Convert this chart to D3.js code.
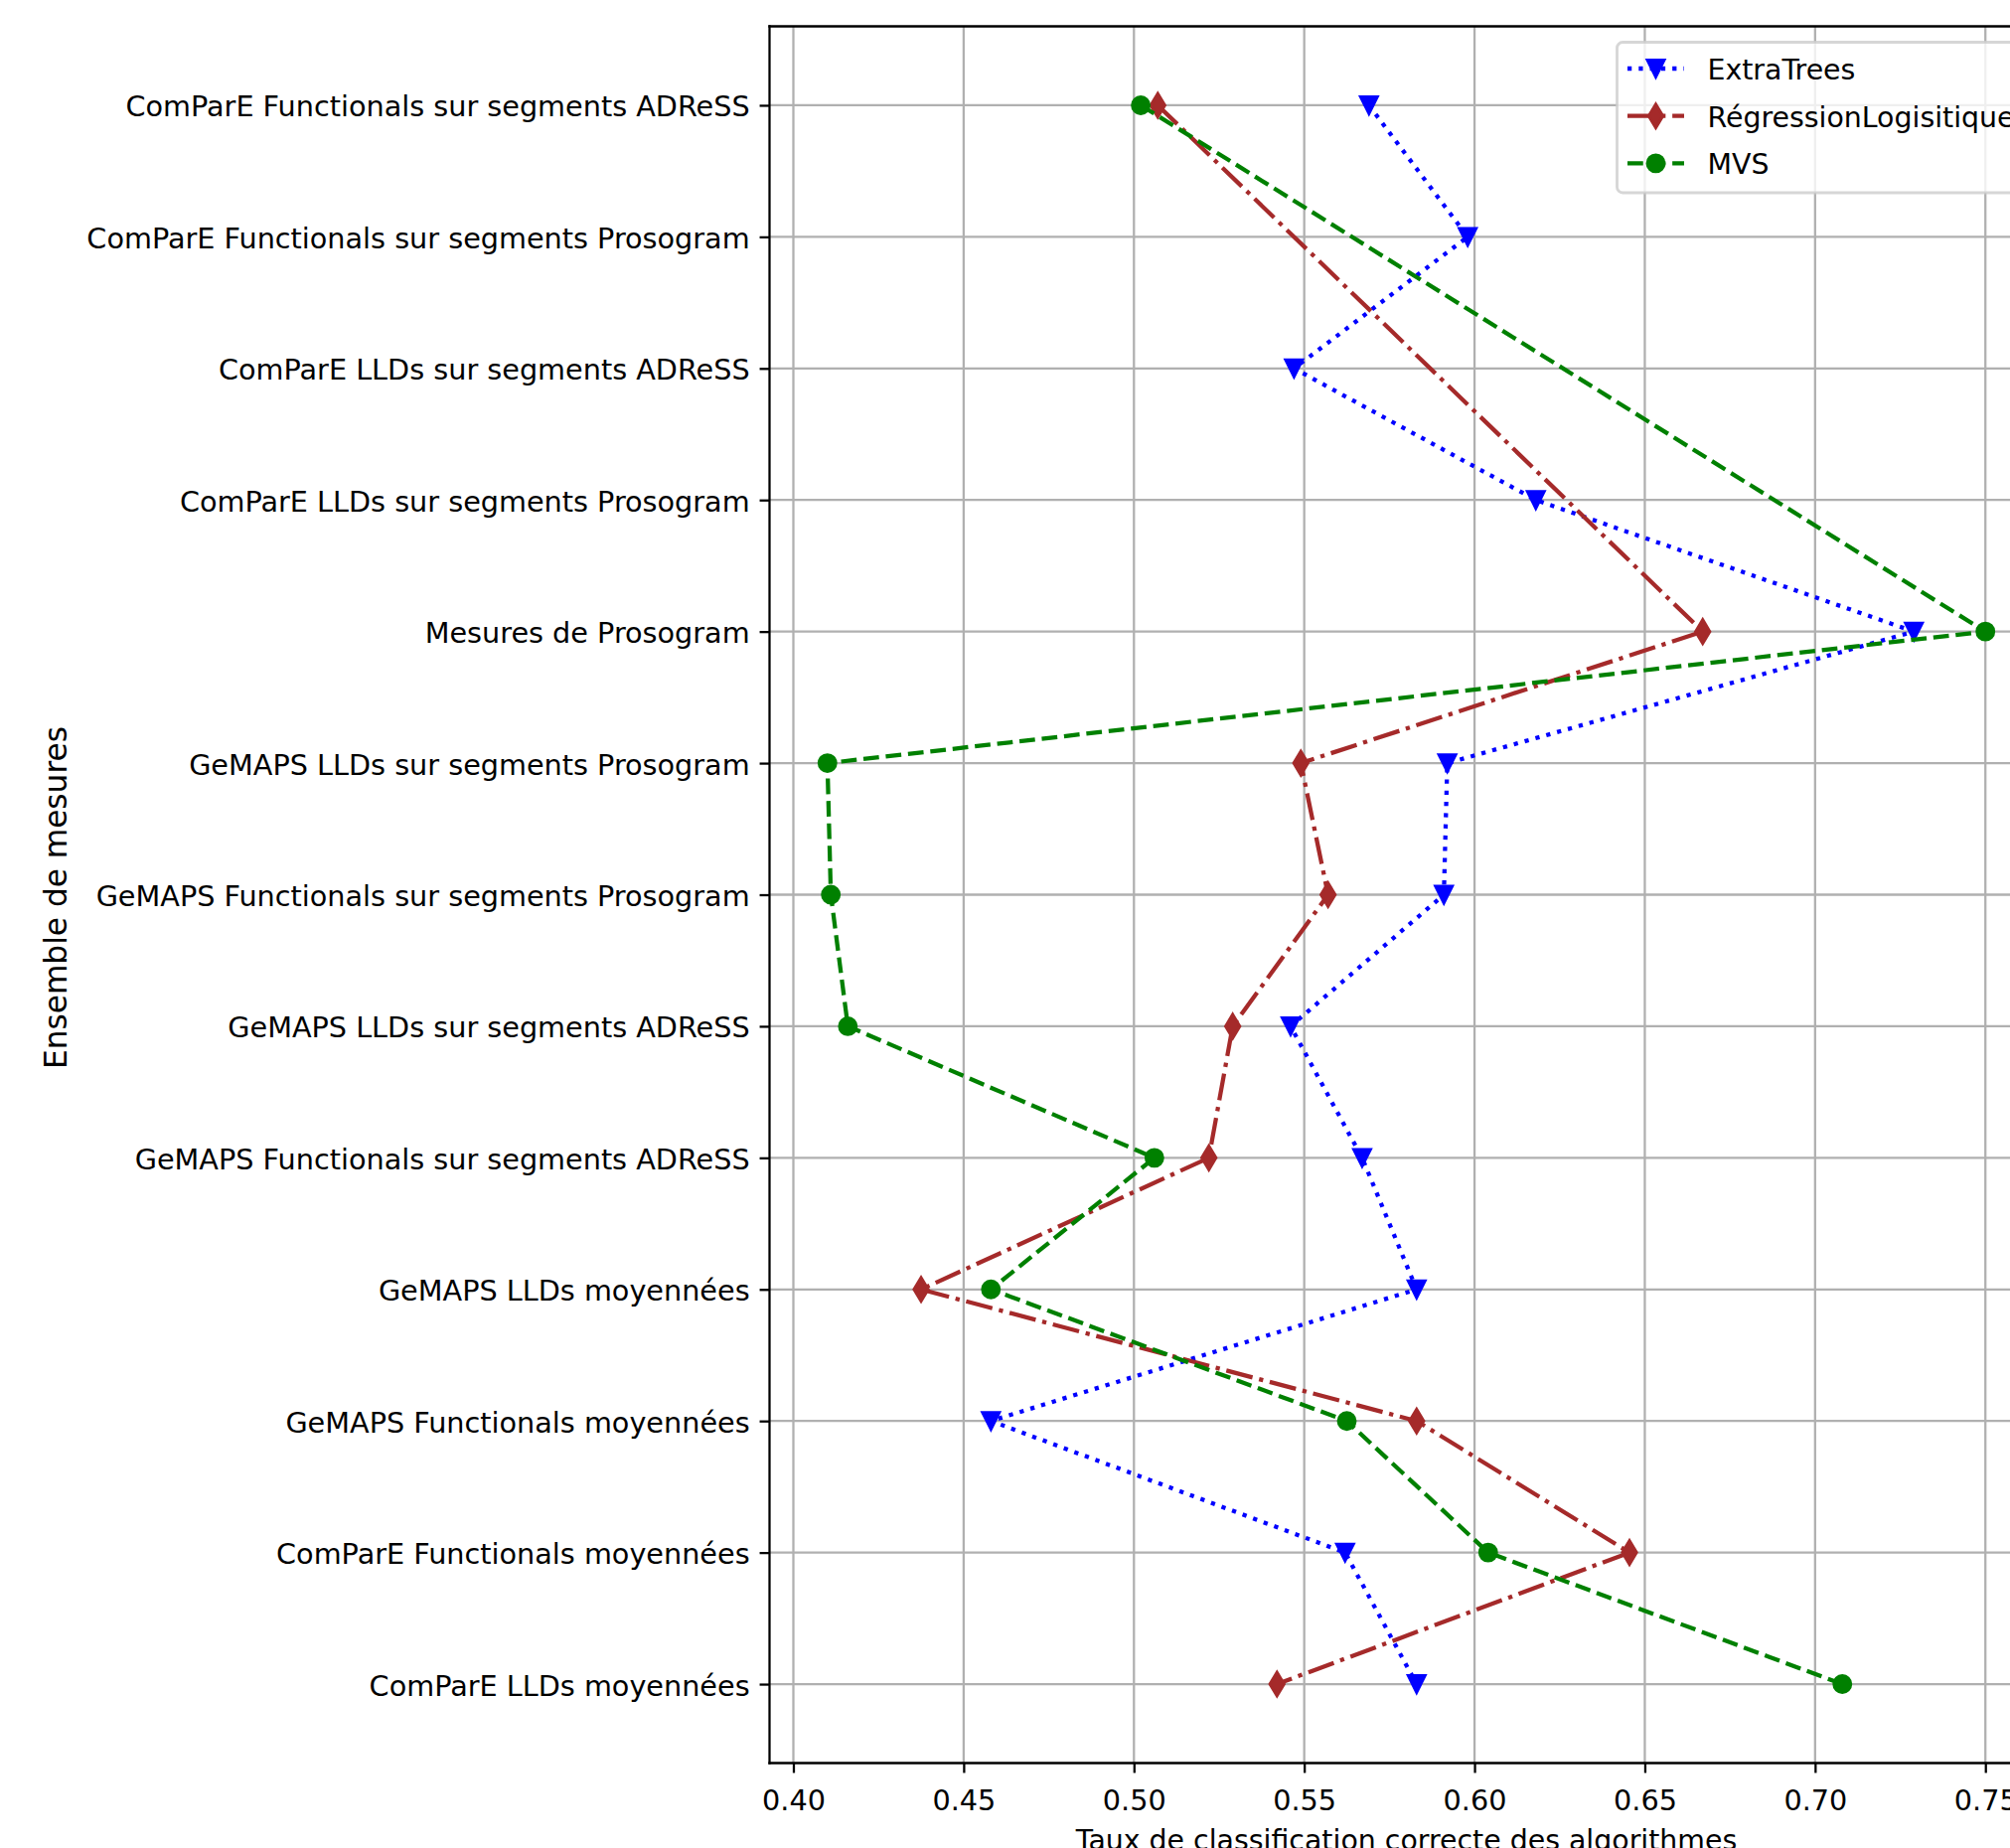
<!DOCTYPE html>
<html>
<head>
<meta charset="utf-8">
<script src="https://cdn.jsdelivr.net/npm/d3@7"></script>
<style>
  html, body { margin: 0; padding: 0; background: #ffffff; }
  svg { display: block; }
  text { font-family: "DejaVu Sans", sans-serif; }
</style>
</head>
<body>
<svg id="chart" width="2023" height="1860"></svg>
<script>
// ---------- data ----------
const categories = [
  "ComParE Functionals sur segments ADReSS",
  "ComParE Functionals sur segments Prosogram",
  "ComParE LLDs sur segments ADReSS",
  "ComParE LLDs sur segments Prosogram",
  "Mesures de Prosogram",
  "GeMAPS LLDs sur segments Prosogram",
  "GeMAPS Functionals sur segments Prosogram",
  "GeMAPS LLDs sur segments ADReSS",
  "GeMAPS Functionals sur segments ADReSS",
  "GeMAPS LLDs moyennées",
  "GeMAPS Functionals moyennées",
  "ComParE Functionals moyennées",
  "ComParE LLDs moyennées"
];
const extraTrees = [0.569, 0.598, 0.547, 0.618, 0.729, 0.592, 0.591, 0.546, 0.567, 0.583, 0.458, 0.562, 0.583];
const regressionLogistique = [0.507, null, null, null, 0.667, 0.549, 0.557, 0.529, 0.522, 0.4375, 0.583, 0.6455, 0.542];
const mvs = [0.502, null, null, null, 0.750, 0.410, 0.411, 0.416, 0.506, 0.458, 0.5625, 0.604, 0.708];
const seriesNames = ["ExtraTrees", "RégressionLogisitique", "MVS"];
const xTickValues = [0.40, 0.45, 0.50, 0.55, 0.60, 0.65, 0.70, 0.75];
const xTickLabels = ["0.40", "0.45", "0.50", "0.55", "0.60", "0.65", "0.70", "0.75"];
const xLabel = "Taux de classification correcte des algorithmes";
const yLabel = "Ensemble de mesures";

// ---------- layout / style ----------
const PT = 2.84;               // px per point
const FS = 28.4;               // font size px
const TFS = 28.7;              // tick label font size
const YLFS = 31.2;             // y label font size
const LW = 1.5 * PT;           // line width
const MS = 6 * PT;             // marker size
const MEW = 1 * PT;            // marker edge width
const plot = { left: 774.5, right: 2056.5, top: 26.5, bottom: 1774.5 };

const styles = [
  { color: "#0000ff", dash: [1 * LW, 1.65 * LW], marker: "tri" },
  { color: "#a52a2a", dash: [6.4 * LW, 1.6 * LW, 1 * LW, 1.6 * LW], marker: "thin" },
  { color: "#008000", dash: [3.7 * LW, 1.6 * LW], marker: "circle" }
];
const seriesValues = [extraTrees, regressionLogistique, mvs];

const svg = d3.select("#chart");

const x = d3.scaleLinear().domain([0.393, 0.767]).range([plot.left, plot.right]);
const y = d3.scalePoint().domain(categories).range([plot.top, plot.bottom]).padding(0.6);

// grid
const gGrid = svg.append("g");
gGrid.selectAll("line.vx").data(xTickValues).join("line")
  .attr("x1", d => x(d)).attr("x2", d => x(d))
  .attr("y1", plot.top).attr("y2", plot.bottom)
  .attr("stroke", "#b0b0b0").attr("stroke-width", 0.8 * PT);
gGrid.selectAll("line.hy").data(categories).join("line")
  .attr("x1", plot.left).attr("x2", plot.right)
  .attr("y1", d => y(d)).attr("y2", d => y(d))
  .attr("stroke", "#b0b0b0").attr("stroke-width", 0.8 * PT);

// marker path generator
function markerPath(type) {
  if (type === "circle") return d3.symbol(d3.symbolCircle, Math.PI * (MS / 2) ** 2)();
  if (type === "tri") {
    const h = MS / 2;
    return `M0,${h}L${-h},${-h}L${h},${-h}Z`;
  }
  const hy = MS * Math.SQRT2 / 2, hx = 0.6 * hy;
  return `M0,${-hy}L${hx},0L0,${hy}L${-hx},0Z`;
}

// series
const lineGen = d3.line().x(d => x(d.v)).y(d => y(d.c));
seriesValues.forEach((vals, i) => {
  const pts = categories.map((c, j) => ({ c, v: vals[j] })).filter(d => d.v !== null);
  const st = styles[i];
  const g = svg.append("g");
  g.append("path").datum(pts)
    .attr("d", lineGen)
    .attr("fill", "none")
    .attr("stroke", st.color)
    .attr("stroke-width", LW)
    .attr("stroke-dasharray", st.dash.join(","))
    .attr("stroke-linecap", "butt")
    .attr("stroke-linejoin", "round");
  g.selectAll("path.m").data(pts).join("path")
    .attr("class", "m")
    .attr("transform", d => `translate(${x(d.v)},${y(d.c)})`)
    .attr("d", markerPath(st.marker))
    .attr("fill", st.color)
    .attr("stroke", st.color)
    .attr("stroke-width", MEW)
    .attr("stroke-linejoin", "miter");
});

// axes
const xAxis = d3.axisBottom(x).tickValues(xTickValues)
  .tickFormat((d, i) => xTickLabels[i]).tickSize(3.5 * PT).tickPadding(3.5 * PT);
const gx = svg.append("g").attr("transform", `translate(0,${plot.bottom})`).call(xAxis);
gx.select(".domain").remove();
gx.selectAll(".tick line").attr("stroke", "#000").attr("stroke-width", 0.8 * PT);
gx.selectAll(".tick text").attr("font-size", TFS).attr("fill", "#000")
  .attr("font-family", "DejaVu Sans").attr("dy", null).attr("y", 47.5);

const yAxis = d3.axisLeft(y).tickSize(3.5 * PT).tickPadding(3.5 * PT);
const gy = svg.append("g").attr("transform", `translate(${plot.left},0)`).call(yAxis);
gy.select(".domain").remove();
gy.selectAll(".tick line").attr("stroke", "#000").attr("stroke-width", 0.8 * PT);
gy.selectAll(".tick text").attr("font-size", TFS).attr("fill", "#000")
  .attr("font-family", "DejaVu Sans").attr("dy", null).attr("y", 11);

// spines
const spine = svg.append("g").attr("stroke", "#000").attr("stroke-width", 0.8 * PT)
  .attr("stroke-linecap", "square");
spine.append("line").attr("x1", plot.left).attr("x2", plot.left).attr("y1", plot.top).attr("y2", plot.bottom);
spine.append("line").attr("x1", plot.right).attr("x2", plot.right).attr("y1", plot.top).attr("y2", plot.bottom);
spine.append("line").attr("x1", plot.left).attr("x2", plot.right).attr("y1", plot.top).attr("y2", plot.top);
spine.append("line").attr("x1", plot.left).attr("x2", plot.right).attr("y1", plot.bottom).attr("y2", plot.bottom);

// axis labels
svg.append("text")
  .attr("x", (plot.left + plot.right) / 2).attr("y", 1862)
  .attr("text-anchor", "middle").attr("font-size", FS).attr("fill", "#000")
  .text(xLabel);
svg.append("text")
  .attr("transform", `translate(67,${(plot.top + plot.bottom) / 2 + 3}) rotate(-90)`)
  .attr("text-anchor", "middle").attr("font-size", YLFS).attr("fill", "#000")
  .text(yLabel);

// legend
const leg = svg.append("g");
const legX = 1627.5, legY = 42.5;
leg.append("rect")
  .attr("x", legX).attr("y", legY).attr("width", 415).attr("height", 151.5)
  .attr("rx", 5.7).attr("ry", 5.7)
  .attr("fill", "#ffffff").attr("fill-opacity", 0.8)
  .attr("stroke", "#cccccc").attr("stroke-opacity", 0.8).attr("stroke-width", PT);
const legRows = [69, 116.7, 164.4];
seriesNames.forEach((name, i) => {
  const st = styles[i];
  const yy = legRows[i];
  leg.append("line")
    .attr("x1", 1638).attr("x2", 1695).attr("y1", yy).attr("y2", yy)
    .attr("stroke", st.color).attr("stroke-width", LW)
    .attr("stroke-dasharray", st.dash.join(",")).attr("stroke-linecap", "butt");
  leg.append("path")
    .attr("transform", `translate(1666.5,${yy})`)
    .attr("d", markerPath(st.marker))
    .attr("fill", st.color).attr("stroke", st.color).attr("stroke-width", MEW);
  leg.append("text")
    .attr("x", 1718.5).attr("y", yy + 11)
    .attr("font-size", FS).attr("fill", "#000")
    .text(name);
});
</script>
</body>
</html>
